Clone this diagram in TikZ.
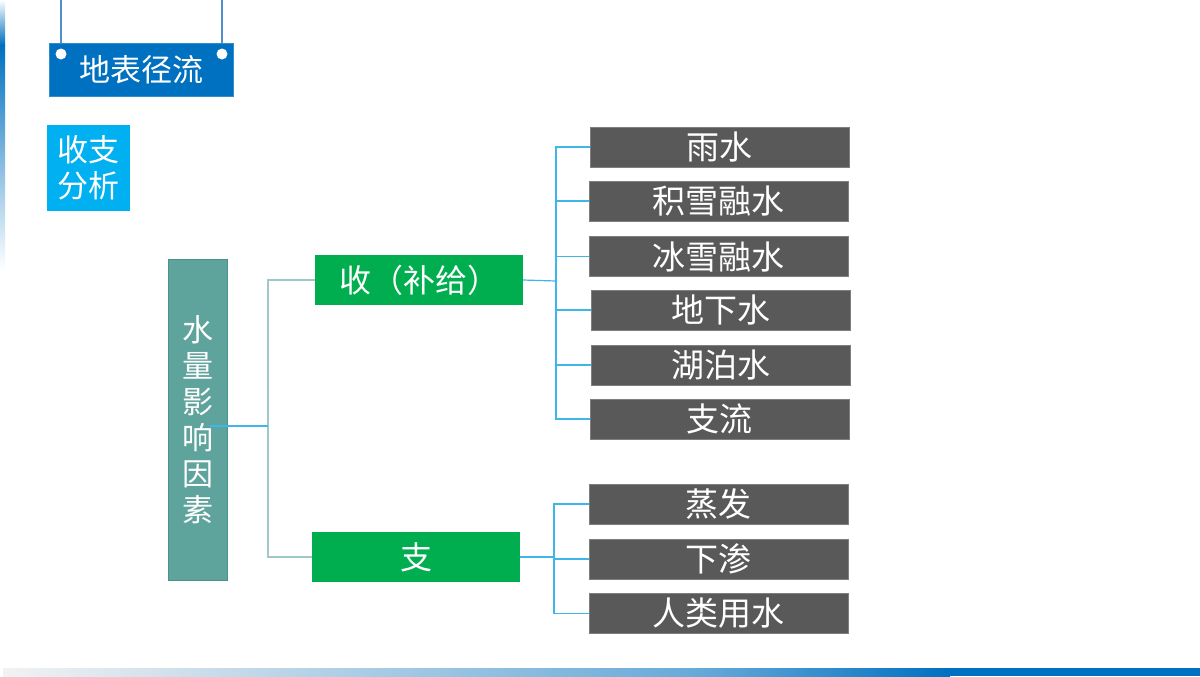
\documentclass[tikz,border=0pt]{standalone}
\usepackage{fontspec}
\newfontfamily\cjk{Noto Sans CJK SC}
\definecolor{darkblue}{HTML}{0070C0}
\definecolor{skyblue}{HTML}{00B0F0}
\definecolor{linkblue}{HTML}{3DB6EA}
\definecolor{tealbox}{HTML}{5FA39D}
\definecolor{tealedge}{HTML}{4A938C}
\definecolor{tealline}{HTML}{9EC9C5}
\definecolor{greenbox}{HTML}{00AE4F}
\definecolor{boxgray}{HTML}{595959}
\definecolor{boxedge}{HTML}{7F7F7F}
\definecolor{hangline}{HTML}{4F8FCF}
\definecolor{barlight}{HTML}{F2F2F2}
\begin{document}
\begin{tikzpicture}[x=0.5pt,y=-0.5pt,
  every node/.style={font=\cjk, text=white, inner sep=0pt, outer sep=0pt},
  graybox/.style={fill=boxgray, draw=boxedge, line width=0.5pt, minimum width=129.5pt, minimum height=20pt, font=\cjk\fontsize{16.5}{18}\selectfont},
  greenbox/.style={fill=greenbox, minimum width=104pt, minimum height=25pt, font=\cjk\fontsize{16}{18}\selectfont},
  bluelink/.style={draw=linkblue, line width=0.6pt},
  teallink/.style={draw=tealline, line width=0.6pt},
  hang/.style={draw=hangline, line width=0.6pt},
  dot/.style={circle, fill=white, minimum size=5.5pt}
]
\useasboundingbox (0,0) rectangle (1200,676);
\fill[white] (0,0) rectangle (1200,676);
% left gradient bar
\shade[top color=white, bottom color=darkblue] (0,0) rectangle (5,45);
\shade[top color=darkblue, bottom color=white] (0,45) rectangle (5,270);
% bottom gradient bar
\shade[left color=barlight, right color=darkblue!60] (3,668) rectangle (700,676);
\shade[left color=darkblue!60, right color=darkblue] (700,668) rectangle (950,676);
\fill[darkblue] (949,668) rectangle (1200,676);

% hanging title
\node[fill=darkblue, draw=darkblue!80!white, line width=0.5pt, minimum width=92pt, minimum height=26.5pt, font=\cjk\fontsize{15.5}{18}\selectfont] (title) at (141,69.5) {地表径流};
\coordinate (h1) at (61,0);
\coordinate (h2) at (222,0);
\node[dot] (d1) at (61,54) {};
\node[dot] (d2) at (222,54) {};
\draw[hang] (h1) -- (h1 |- title.north);
\draw[hang] (h2) -- (h2 |- title.north);

% 收支分析
\node[fill=skyblue, minimum width=41.5pt, minimum height=43pt, align=center, font=\cjk\fontsize{15.5}{18}\selectfont] (ana) at (88.5,168) {收支\\分析};

% root
\node[fill=tealbox, draw=tealedge, line width=0.5pt, minimum width=29.5pt, minimum height=160.5pt, align=center, font=\cjk\fontsize{15.5}{18}\selectfont] (root) at (197.5,419.5) {水\\量\\影\\响\\因\\素};

% green nodes
\node[greenbox] (shou) at (419,280) {收（补给）};
\node[greenbox] (zhi) at (416,557) {支};

% gray nodes
\node[graybox] (yu) at (719.5,147) {雨水};
\node[graybox] (jx) at (718.5,201) {积雪融水};
\node[graybox] (bx) at (718.5,256.5) {冰雪融水};
\node[graybox] (dx) at (720.5,310) {地下水};
\node[graybox] (hp) at (720.5,365) {湖泊水};
\node[graybox] (zl) at (719.5,419) {支流};
\node[graybox] (zf) at (718.5,504) {蒸发};
\node[graybox] (xs) at (718.5,559) {下渗};
\node[graybox] (rl) at (718.5,613.5) {人类用水};

% connectors root
\coordinate (rs) at (210,426);
\coordinate (j1) at (268,426);
\draw[teallink] (shou.west) -| (j1) |- (zhi.west);
\draw[bluelink] (rs) -- (j1);

% connectors income
\coordinate (j2) at (556,281);
\draw[bluelink] (shou.east) -- (j2);
\foreach \b in {yu,jx,bx,dx,hp,zl} \draw[bluelink] (j2) |- (\b.west);

% connectors expense
\coordinate (j3) at (554,557);
\draw[bluelink] (zhi.east) -- (j3);
\foreach \b in {zf,xs,rl} \draw[bluelink] (j3) |- (\b.west);
\end{tikzpicture}
\end{document}
